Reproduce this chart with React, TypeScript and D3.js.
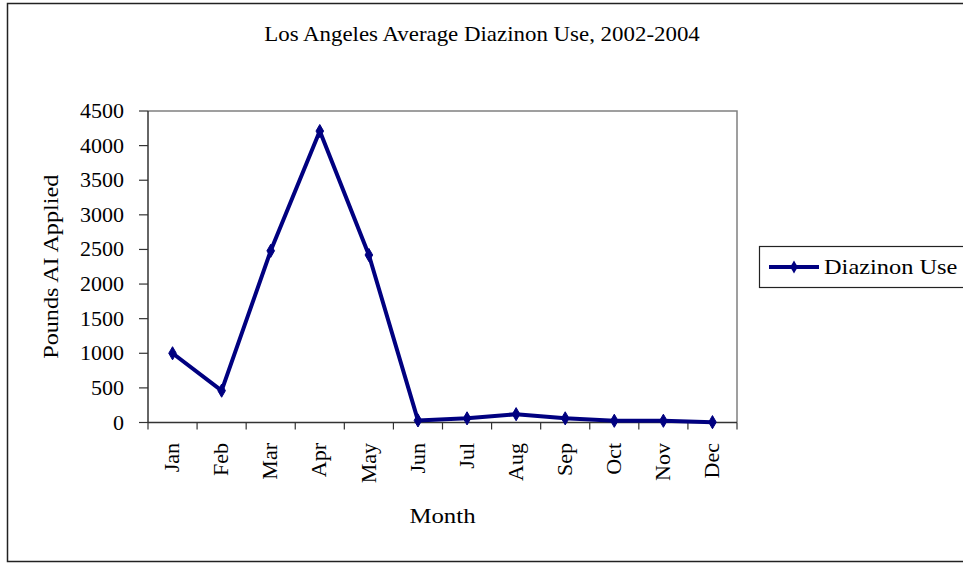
import React from "react";
import * as d3 from "d3";

const months = ["Jan", "Feb", "Mar", "Apr", "May", "Jun", "Jul", "Aug", "Sep", "Oct", "Nov", "Dec"];
const diazinonUse = [1000, 460, 2480, 4210, 2420, 30, 60, 120, 60, 25, 25, 5];
const yTicks = [0, 500, 1000, 1500, 2000, 2500, 3000, 3500, 4000, 4500];

const W = 963;
const H = 563;
const PLOT = { left: 148, right: 737, top: 111, bottom: 422.5 };
const FONT = "'Times New Roman', 'Liberation Serif', serif";
const NAVY = "#000080";

const diamond = d3.symbol().type(d3.symbolDiamond).size(50);

export default function App() {
  const x = d3.scaleBand<string>().domain(months).range([PLOT.left, PLOT.right]);
  const y = d3.scaleLinear().domain([0, 4500]).range([PLOT.bottom, PLOT.top]);
  const cx = (m: string) => (x(m) as number) + x.bandwidth() / 2;

  const line = d3
    .line<number>()
    .x((_, i) => cx(months[i]))
    .y((d) => y(d));

  // the source text is stretched along its length, by a different amount per element
  const hText = (tx: number, ty: number, s: string, sx: number, anchor = "middle") => (
    <text
      transform={`translate(${tx},${ty}) scale(${sx},1)`}
      textAnchor={anchor}
      fontSize={20}
      fontFamily={FONT}
      fill="#000"
    >
      {s}
    </text>
  );

  return (
    <div style={{ position: "absolute", left: 0, top: 0 }}>
      <svg width={W} height={H} style={{ display: "block", background: "#fff" }}>
        <rect x={7.5} y={3.5} width={970} height={558} fill="none" stroke="#222" strokeWidth={1.5} />

        {hText(482, 41, "Los Angeles Average Diazinon Use, 2002-2004", 1.145)}

        <path
          d={`M${PLOT.left},${PLOT.top}H${PLOT.right}V${PLOT.bottom}`}
          fill="none"
          stroke="#808080"
          strokeWidth={1.5}
        />
        <line x1={PLOT.left} x2={PLOT.left} y1={PLOT.top} y2={PLOT.bottom} stroke="#333" strokeWidth={1.5} />
        {yTicks.map((t) => (
          <g key={t}>
            <line x1={PLOT.left - 9} x2={PLOT.left} y1={y(t)} y2={y(t)} stroke="#333" strokeWidth={1.2} />
            {hText(PLOT.left - 24, y(t) + 7, String(t), 1.1, "end")}
          </g>
        ))}
        <text
          transform={`translate(58,${(PLOT.top + PLOT.bottom) / 2}) rotate(-90) scale(1.21,1)`}
          textAnchor="middle"
          fontSize={20}
          fontFamily={FONT}
        >
          Pounds AI Applied
        </text>

        <line x1={PLOT.left} x2={PLOT.right} y1={PLOT.bottom} y2={PLOT.bottom} stroke="#333" strokeWidth={1.5} />
        {[...months.map((m) => x(m) as number), PLOT.right].map((tx, i) => (
          <line key={i} x1={tx} x2={tx} y1={PLOT.bottom} y2={PLOT.bottom + 7} stroke="#333" strokeWidth={1.2} />
        ))}
        {months.map((m) => (
          <text
            key={m}
            transform={`translate(${cx(m)},443) rotate(-90) scale(1.1,1)`}
            textAnchor="end"
            dominantBaseline="central"
            fontSize={20}
            fontFamily={FONT}
          >
            {m}
          </text>
        ))}
        {hText((PLOT.left + PLOT.right) / 2, 523, "Month", 1.24)}

        <path d={line(diazinonUse) as string} fill="none" stroke={NAVY} strokeWidth={4} strokeLinejoin="round" />
        {diazinonUse.map((v, i) => (
          <path
            key={i}
            d={diamond() as string}
            transform={`translate(${cx(months[i])},${y(v)})`}
            fill={NAVY}
            stroke={NAVY}
          />
        ))}

        <rect x={759.5} y={246.5} width={220} height={41} fill="#fff" stroke="#222" strokeWidth={1.2} />
        <line x1={769} x2={819} y1={267} y2={267} stroke={NAVY} strokeWidth={4} />
        <path d={diamond() as string} transform="translate(794,267)" fill={NAVY} />
        {hText(824, 274, "Diazinon Use", 1.22, "start")}
      </svg>
    </div>
  );
}
